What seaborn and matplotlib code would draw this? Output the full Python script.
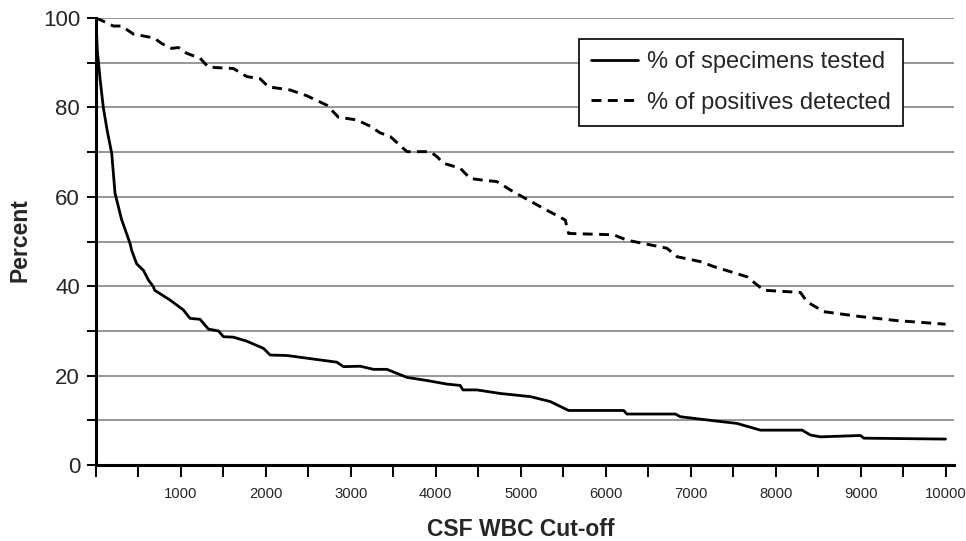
import matplotlib
matplotlib.use("Agg")
import matplotlib.pyplot as plt
import seaborn as sns
import pandas as pd

# ---- data ----
specimens_x = [0, 15, 50, 86, 130, 185, 224, 300, 400, 420, 479, 560, 616, 675, 690,
               872, 1028, 1107, 1225, 1323, 1441, 1500, 1618, 1775, 1971, 2050, 2246,
               2482, 2835, 2913, 3110, 3267, 3424, 3542, 3660, 3895, 4131, 4287, 4319,
               4484, 4758, 5112, 5347, 5563, 6211, 6250, 6820, 6879, 7271, 7546, 7821,
               8312, 8410, 8528, 9000, 9038, 10000]
specimens_y = [100, 92.8, 86, 80, 75, 69.7, 60.8, 55, 49.6, 48, 45, 43.5, 41.4, 39.9, 39.1,
               36.9, 34.7, 32.8, 32.6, 30.4, 30.0, 28.7, 28.6, 27.7, 26.1, 24.6, 24.5,
               23.9, 23.0, 22.0, 22.1, 21.4, 21.4, 20.5, 19.6, 18.9, 18.1, 17.8, 16.8,
               16.8, 16.0, 15.3, 14.2, 12.2, 12.2, 11.4, 11.4, 10.8, 9.9, 9.3, 7.8,
               7.8, 6.7, 6.3, 6.6, 6.0, 5.8]

positives_x = [0, 120, 204, 302, 440, 636, 700, 773, 891, 970, 1068, 1225, 1323, 1618,
               1775, 1932, 2030, 2285, 2482, 2717, 2854, 3070, 3227, 3345, 3463, 3660,
               3934, 4013, 4091, 4287, 4405, 4523, 4719, 4915, 5230, 5524, 5563, 6093,
               6250, 6721, 6839, 7114, 7271, 7664, 7782, 7860, 8292, 8371, 8567, 9000,
               9431, 10000]
positives_y = [100, 99, 98.2, 98.2, 96.4, 95.7, 95.3, 94.3, 93.2, 93.4, 92.1, 91.0, 89.0, 88.7,
               86.9, 86.4, 84.6, 83.9, 82.6, 80.5, 77.8, 77.2, 75.8, 74.3, 73.5, 70.1,
               70.1, 69.0, 67.5, 66.4, 64.1, 63.8, 63.4, 61.1, 57.8, 54.8, 51.8, 51.5,
               50.3, 48.5, 46.6, 45.5, 44.4, 42.1, 40.3, 39.1, 38.6, 36.5, 34.3, 33.2,
               32.3, 31.5]

series_labels = ["% of specimens tested", "% of positives detected"]
x_label = "CSF WBC Cut-off"
y_label = "Percent"
x_tick_values = list(range(0, 10001, 500))
x_tick_labels = [str(v) if (v % 1000 == 0 and v > 0) else "" for v in x_tick_values]
y_tick_values = list(range(0, 101, 10))
y_tick_labels = [str(v) if v % 20 == 0 else "" for v in y_tick_values]

# ---- style ----
sns.set_style("white")
plt.rcParams["font.family"] = ["Liberation Sans", "DejaVu Sans"]

W, H = 966, 541
fig = plt.figure(figsize=(W / 100, H / 100), dpi=100)
ax = fig.add_axes([96 / W, (H - 465) / H, (954 - 96) / W, (465 - 18) / H])

df_spec = pd.DataFrame({"cutoff": specimens_x, "percent": specimens_y})
df_pos = pd.DataFrame({"cutoff": positives_x, "percent": positives_y})

sns.lineplot(data=df_spec, x="cutoff", y="percent", color="black", linewidth=2.0,
             label=series_labels[0], ax=ax, zorder=3)
sns.lineplot(data=df_pos, x="cutoff", y="percent", color="black", linewidth=2.1,
             linestyle=(0, (3.4, 2.2)), label=series_labels[1], ax=ax, zorder=3)

ax.set_xlim(0, 10100)
ax.set_ylim(0, 100)

ax.set_xticks(x_tick_values)
ax.set_xticklabels(x_tick_labels, fontsize=10.7)
ax.set_yticks(y_tick_values)
ax.set_yticklabels(y_tick_labels, fontsize=16)

ax.yaxis.grid(True, color="#7a7a7a", linewidth=1.1)
ax.xaxis.grid(False)
ax.set_axisbelow(True)

for s in ["top", "right"]:
    ax.spines[s].set_visible(False)
for s in ["left", "bottom"]:
    ax.spines[s].set_color("black")
    ax.spines[s].set_linewidth(2.2)
    ax.spines[s].set_zorder(4)

ax.tick_params(axis="y", direction="out", length=6.5, width=1.4, color="black", pad=5,
               left=True)
ax.tick_params(axis="x", direction="out", length=8.6, width=1.4, color="black", pad=7,
               bottom=True)

ax.set_xlabel("")
ax.set_ylabel("")
fig.text(521 / W, 1 - 529 / H, x_label, ha="center", va="center",
         fontsize=16.5, fontweight="bold")
fig.text(19.5 / W, 1 - 240 / H, y_label, ha="center", va="center", rotation=90,
         fontsize=16.5, fontweight="bold")

leg = ax.legend(loc="upper left", bbox_to_anchor=(579 / W, 1 - 39 / H),
                bbox_transform=fig.transFigure, borderaxespad=0, fancybox=False,
                frameon=True, edgecolor="black", framealpha=1, fontsize=17,
                handlelength=2.0, handletextpad=0.4, labelspacing=0.8,
                borderpad=0.5)
leg.get_frame().set_linewidth(1.2)

fig.savefig("out.png", dpi=100)
